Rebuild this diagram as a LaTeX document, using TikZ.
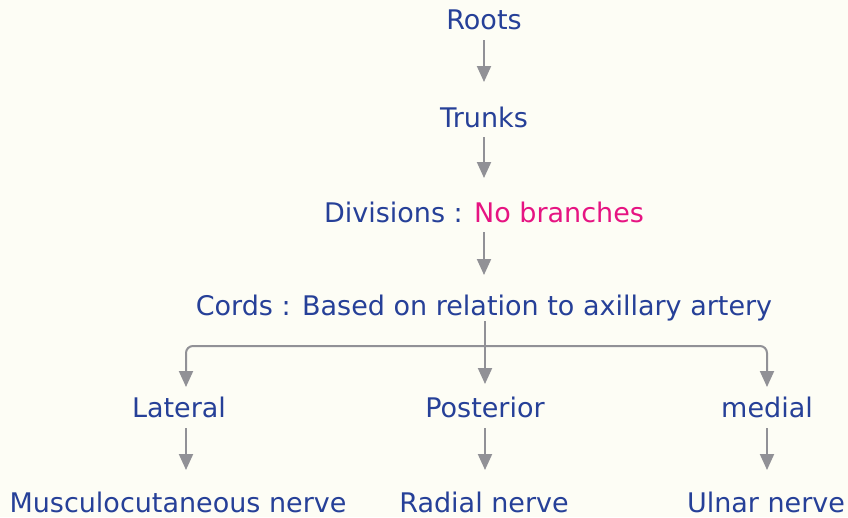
\documentclass[tikz,border=0pt]{standalone}
\usepackage{fontspec}
\setmainfont{DejaVu Sans}
\usetikzlibrary{arrows.meta}
\definecolor{bg}{RGB}{253,253,245}
\definecolor{txt}{RGB}{38,64,152}
\definecolor{pinktxt}{RGB}{230,20,130}
\definecolor{arrgray}{RGB}{145,145,150}
\tikzset{
  lbl/.style={text=txt, inner sep=0pt, font=\fontsize{27}{32}\selectfont},
  arr/.style={draw=arrgray, line width=2pt, -{Triangle[width=14pt,length=16pt]}},
  branch/.style={arr, rounded corners=7pt},
}
\begin{document}
\begin{tikzpicture}[x=1pt,y=-1pt]
\fill[bg] (0,0) rectangle (848,517);
\useasboundingbox (0,0) rectangle (848,517);

\node[lbl] (roots) at (484,20) {Roots};
\node[lbl] (trunks) at (484,117) {Trunks};
\node[lbl] (divisions) at (484,212) {Divisions : \textcolor{pinktxt}{No branches}};
\node[lbl] (cords) at (484,308) {Cords : Based on relation to axillary artery};
\node[lbl] (lateral) at (179,407) {Lateral};
\node[lbl] (posterior) at (485,407) {Posterior};
\node[lbl] (medial) at (767,407) {medial};
\node[lbl] (musculo) at (178,502) {Musculocutaneous nerve};
\node[lbl] (radial) at (484,502) {Radial nerve};
\node[lbl] (ulnar) at (766,502) {Ulnar nerve};

\coordinate (j) at (485,346);

\draw[arr] ([yshift=-20pt]roots.center) -- ([yshift=35pt]trunks.center);
\draw[arr] ([yshift=-20pt]trunks.center) -- ([yshift=34pt]divisions.center);
\draw[arr] ([yshift=-20pt]divisions.center) -- ([yshift=33pt]cords.center);
\draw[arr] ([xshift=1pt,yshift=-13pt]cords.center) -- ([yshift=23pt]posterior.center);
\draw[branch] (j) -| ([xshift=7pt,yshift=20pt]lateral.center);
\draw[branch] (j) -| ([yshift=20pt]medial.center);
\draw[arr] ([xshift=7pt,yshift=-21pt]lateral.center) -- ([xshift=8pt,yshift=32pt]musculo.center);
\draw[arr] ([yshift=-21pt]posterior.center) -- ([xshift=1pt,yshift=32pt]radial.center);
\draw[arr] ([yshift=-21pt]medial.center) -- ([xshift=1pt,yshift=32pt]ulnar.center);
\end{tikzpicture}
\end{document}
